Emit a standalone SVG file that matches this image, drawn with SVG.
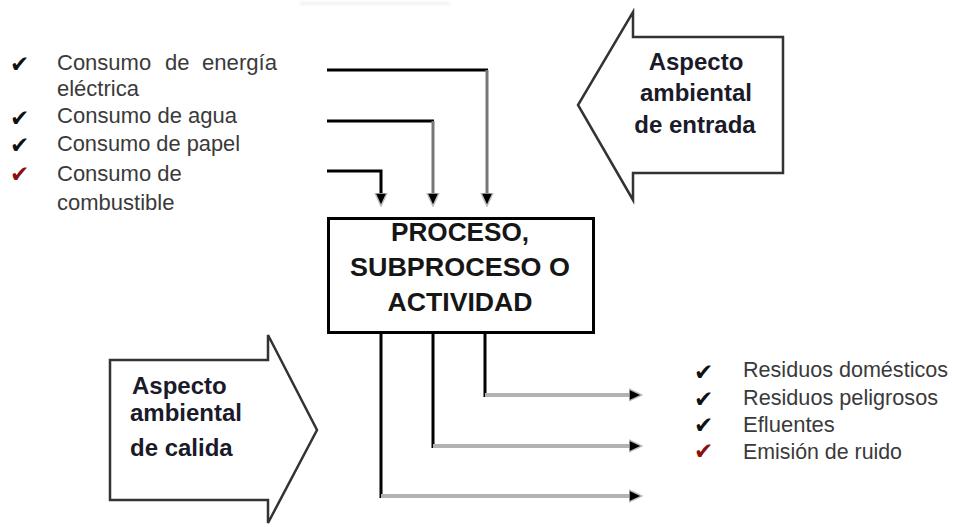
<svg xmlns="http://www.w3.org/2000/svg" width="954" height="527" viewBox="0 0 954 527">
  <defs>
    <style>
      .item { font-family: "Liberation Sans", Arial, sans-serif; font-size: 22px; fill: #3a3a3a; }
      .big  { font-family: "Liberation Sans", Arial, sans-serif; font-size: 25px; font-weight: bold; fill: #161616; text-anchor: middle; }
      .lbl  { font-family: "Liberation Sans", Arial, sans-serif; font-size: 24px; font-weight: bold; fill: #1a1a2a; }
      .chk  { font-family: "DejaVu Sans", sans-serif; font-size: 23px; fill: #111; }
      .chk.red { fill: #8a1010; }
      .shape { fill: #fff; stroke: #333; stroke-width: 2.5; stroke-linejoin: miter; }
      .wire { fill: none; stroke: #000; stroke-width: 3; }
      .wire.grey { stroke: #777; }
      .wire.light { stroke: #b2b2b2; stroke-width: 4; }
    </style>
    <!-- arrowhead drawn pointing along +x; the base sits on the end of the line -->
    <marker id="head" markerUnits="userSpaceOnUse" viewBox="0 0 14 14" refX="0" refY="7" markerWidth="14" markerHeight="14" orient="auto">
      <path d="M0,1 L13,7 L0,13 z" fill="#000" stroke="#bcbcbc" stroke-width="1.5"/>
    </marker>
    <filter id="soft" x="-10%" y="-200%" width="120%" height="500%">
      <feGaussianBlur stdDeviation="1.5"/>
    </filter>
  </defs>

  <rect width="954" height="527" fill="#fff"/>
  <rect x="300" y="2" width="150" height="3" fill="#f0f0f0" filter="url(#soft)"/>

  <!-- input list -->
  <g id="inputs">
    <text class="chk" x="10" y="72">✔</text>
    <text class="item" x="57" y="70">Consumo</text>
    <text class="item" x="165" y="70">de</text>
    <text class="item" x="202" y="70" textLength="75" lengthAdjust="spacingAndGlyphs">energía</text>
    <text class="item" x="57" y="96">eléctrica</text>
    <text class="chk" x="10" y="126">✔</text>
    <text class="item" x="57" y="123" textLength="180" lengthAdjust="spacingAndGlyphs">Consumo de agua</text>
    <text class="chk" x="10" y="153">✔</text>
    <text class="item" x="57" y="151" textLength="183" lengthAdjust="spacingAndGlyphs">Consumo de papel</text>
    <text class="chk red" x="10" y="182">✔</text>
    <text class="item" x="57" y="181">Consumo de</text>
    <text class="item" x="57" y="210">combustible</text>
  </g>

  <!-- input aspect arrow -->
  <g id="aspecto-entrada">
    <polygon class="shape" points="783,37 633,37 633,12 578,105 633,200 633,173 783,173"/>
    <text class="lbl" x="696" y="70" text-anchor="middle">Aspecto</text>
    <text class="lbl" x="696" y="101" text-anchor="middle">ambiental</text>
    <text class="lbl" x="695" y="133" text-anchor="middle">de entrada</text>
  </g>

  <!-- process box -->
  <g id="proceso">
    <rect x="328.5" y="218.5" width="265" height="114" fill="#fff" stroke="#000" stroke-width="3"/>
    <text class="big" x="460" y="241" textLength="138" lengthAdjust="spacingAndGlyphs">PROCESO,</text>
    <text class="big" x="460" y="276" textLength="220" lengthAdjust="spacingAndGlyphs">SUBPROCESO O</text>
    <text class="big" x="460" y="311" textLength="145" lengthAdjust="spacingAndGlyphs">ACTIVIDAD</text>
  </g>

  <!-- output aspect arrow -->
  <g id="aspecto-salida">
    <polygon class="shape" points="110,360 268,360 268,335 317,430 268,523 268,500 110,500"/>
    <text class="lbl" x="132" y="394">Aspecto</text>
    <text class="lbl" x="130" y="421">ambiental</text>
    <text class="lbl" x="130" y="456">de calida</text>
  </g>

  <!-- output list -->
  <g id="outputs">
    <text class="chk" x="694" y="380">✔</text>
    <text class="item" x="743" y="377" textLength="205" lengthAdjust="spacingAndGlyphs">Residuos domésticos</text>
    <text class="chk" x="694" y="407">✔</text>
    <text class="item" x="743" y="405" textLength="195" lengthAdjust="spacingAndGlyphs">Residuos peligrosos</text>
    <text class="chk" x="694" y="433">✔</text>
    <text class="item" x="743" y="432">Efluentes</text>
    <text class="chk red" x="694" y="459">✔</text>
    <text class="item" x="743" y="459" textLength="159" lengthAdjust="spacingAndGlyphs">Emisión de ruido</text>
  </g>

  <!-- connectors -->
  <g id="connectors">
    <!-- inputs into the process -->
    <path class="wire" d="M327,70 H488"/>
    <path class="wire grey" d="M487,70 V193" marker-end="url(#head)"/>
    <path class="wire" d="M327,121 H434"/>
    <path class="wire grey" d="M433,121 V193" marker-end="url(#head)"/>
    <path class="wire" d="M327,171 H381 V193" marker-end="url(#head)"/>
    <!-- outputs from the process -->
    <path class="wire" d="M485,333 V397"/>
    <path class="wire light" d="M485,395 H629" marker-end="url(#head)"/>
    <path class="wire" d="M433,333 V448"/>
    <path class="wire light" d="M433,446 H629" marker-end="url(#head)"/>
    <path class="wire" d="M381,333 V498"/>
    <path class="wire light" d="M381,496 H629" marker-end="url(#head)"/>
  </g>
</svg>
